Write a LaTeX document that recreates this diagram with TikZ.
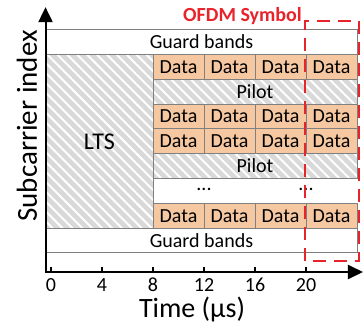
\documentclass[tikz,border=0pt]{standalone}
\usepackage{fontspec}
\setmainfont{Carlito}
\usetikzlibrary{arrows.meta,patterns.meta}

\definecolor{datafill}{HTML}{F6C8A2}
\definecolor{hatchgray}{HTML}{D9D9D9}
\definecolor{cellgray}{HTML}{808080}
\definecolor{symred}{HTML}{E8232B}

\tikzset{
  cell/.style={draw=cellgray, line width=0.9pt, minimum height=24.8pt,
    inner sep=0pt, font=\fontsize{20}{24}\selectfont},
  datacell/.style={cell, fill=datafill, minimum width=51pt},
  hatched/.style={cell, preaction={fill=hatchgray},
    pattern={Lines[angle=-45,distance=7pt,line width=2pt]}, pattern color=white},
  dotsmark/.style={inner sep=0pt, anchor=base, font=\fontsize{20}{24}\selectfont},
  axis/.style={line width=2pt, {Triangle[length=15pt,width=14pt]}-{Triangle[length=15pt,width=14pt]}},
  tickmark/.style={line width=1.5pt},
  ticklabel/.style={inner sep=0pt, anchor=base, font=\fontsize{20}{24}\selectfont},
  axislabel/.style={inner sep=0pt, anchor=base, font=\fontsize{28}{33}\selectfont},
  symbox/.style={draw=symred, line width=2pt, dash pattern=on 13pt off 8pt},
  symlabel/.style={inner sep=0pt, anchor=base east, text=symred,
    font=\fontsize{20}{24}\selectfont\bfseries}
}

\begin{document}
\begin{tikzpicture}[x=12.75pt, y=24.8pt]
  \useasboundingbox (-4,-2.097) rectangle (24.47,10.968);

  % guard bands
  \node[cell, minimum width=311.1pt] (guardtop) at (11.8,9.27) {Guard bands};
  \node[cell, minimum width=311.1pt] (guardbot) at (11.8,1.27) {Guard bands};

  % training part
  \node[hatched, minimum width=107.1pt, minimum height=173.6pt,
    font=\fontsize{24}{28}\selectfont] (lts) at (3.8,5.27) {LTS};

  % pilot subcarriers
  \node[hatched, minimum width=204pt] (pilota) at (16,7.27) {Pilot};
  \node[hatched, minimum width=204pt] (pilotb) at (16,4.27) {Pilot};

  % data subcarriers
  \foreach \r/\y in {1/8.27,2/6.27,3/5.27,4/2.27}
    \foreach \c/\x in {1/10,2/14,3/18,4/22}
      \node[datacell] (data\r\c) at (\x,\y) {Data};

  \node[dotsmark] (dotsa) at (12,3.27) {...};
  \node[dotsmark] (dotsb) at (20,3.27) {...};

  % axes
  \coordinate (origin) at (-0.43,0);
  \coordinate (ytip) at (-0.43,10.68);
  \coordinate (xtip) at (24.47,0);
  \draw[axis] (ytip) -- (origin) -- (xtip);

  \foreach \t in {0,4,...,20} {
    \draw[tickmark] (\t,0) -- (\t,0.2);
    \node[ticklabel] (tick\t) at (\t,-0.77) {\t};
  }

  \node[axislabel] (xlabel) at (11.06,-1.84) {Time (µs)};
  \node[axislabel, rotate=90, font=\fontsize{29}{34}\selectfont] (ylabel) at (-1.1,5.89) {Subcarrier index};

  % one symbol
  \coordinate (symsw) at (19.96,0.44);
  \coordinate (symne) at (24.16,10.12);
  \draw[symbox] (symsw) rectangle (symne);
  \node[symlabel] (symtext) at (19.69,10.09) {OFDM Symbol};
\end{tikzpicture}
\end{document}
